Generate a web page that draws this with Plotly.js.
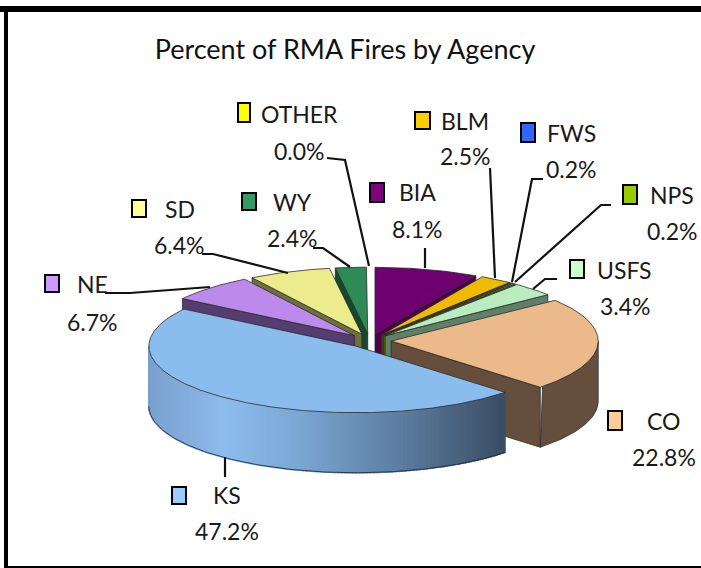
<!DOCTYPE html>
<html><head><meta charset="utf-8">
<script src="https://cdn.plot.ly/plotly-3.0.1.min.js"></script>
<style>html,body{margin:0;padding:0;background:#fff;overflow:hidden}#c{width:701px;height:568px}</style>
</head><body><div id="c"></div>
<script>
// Data, clockwise from 12 o'clock
const agencies = ['OTHER','BIA','BLM','FWS','NPS','USFS','CO','KS','NE','SD','WY'];
const percents = [0.0,8.1,2.5,0.2,0.2,3.4,22.8,47.2,6.7,6.4,2.4];
const topColors = ['#ffff00','#6f006f','#eebb00','#3366ff','#99cc00','#b9edc1','#ecb98a','#8bbcee','#bc8aec','#ecec8c','#2e8b57'];
const wallColors = ['#808000','#4c004c','#6e5600','#1a3380','#4d6600','#5f7f68','#654f3c','#7aa6d6','#553d6f','#6e6e3e','#144a2c'];
const keyColors = ['#ffff00','#800080','#ffcc00','#3366ff','#99cc00','#ccffcc','#ffcc99','#99ccff','#cc99ff','#ffff99','#339966'];

// Projection of the tilted, exploded pie onto the pixel-scaled axes
const CX=369.5, CY=340.7, RX=207, RY=66.6, DEPTH=60, PULL=0.105;
const rad=d=>d*Math.PI/180;
const wallGradient=[[148,[122,160,205]],[225,[140,188,238]],[300,[122,166,210]],[400,[92,125,160]],[503,[58,78,100]]];
function gradAt(x){
  for(let i=1;i<wallGradient.length;i++){
    const [x0,c0]=wallGradient[i-1],[x1,c1]=wallGradient[i];
    if(x<=x1){const t=Math.max(0,(x-x0)/(x1-x0));
      return 'rgb('+c0.map((v,k)=>Math.round(v+(c1[k]-v)*t)).join(',')+')';}
  }
  return 'rgb(58,78,100)';
}
const traces=[];
function poly(xs,ys,fill,lineColor,w){
  traces.push({type:'scatter',mode:'lines',x:xs,y:ys,fill:'toself',fillcolor:fill,
    line:{color:lineColor||fill,width:w===undefined?0.8:w},hoverinfo:'skip',showlegend:false});
}
// slice geometry from the values
let acc=0;
const slices=agencies.map((n,i)=>{
  const s=acc*3.6; acc+=percents[i]; const e=acc*3.6; const m=(s+e)/2;
  return {i,n,s,e,m,cx:CX+PULL*RX*Math.sin(rad(m)),cy:CY-PULL*RY*Math.cos(rad(m))};
}).filter(o=>percents[o.i]>0);
const backness=o=>Math.abs(((o.m+180)%360)-180);
slices.sort((a,b)=>backness(a)-backness(b));
const OUT='#2b2b2b';
slices.forEach(o=>{
  const pt=a=>[o.cx+RX*Math.sin(rad(a)),o.cy-RY*Math.cos(rad(a))];
  const wall=wallColors[o.i], top=topColors[o.i];
  // radial walls that face the viewer
  const radial=a=>{const p=pt(a);
    poly([o.cx,p[0],p[0],o.cx,o.cx],[o.cy,p[1],p[1]+DEPTH,o.cy+DEPTH,o.cy],wall,OUT);};
  if(o.s>180) radial(o.s);
  if(o.e<180) radial(o.e);
  // outer wall
  const a0=Math.max(o.s,90),a1=Math.min(o.e,270);
  if(a1>a0){
    if(o.n==='KS'){
      const step=1;
      for(let a=a0;a<a1;a+=step){
        const b=Math.min(a+step,a1),p=pt(a),q=pt(b),c=gradAt((p[0]+q[0])/2);
        poly([p[0],q[0],q[0],p[0],p[0]],[p[1],q[1],q[1]+DEPTH,p[1]+DEPTH,p[1]],c,c,1.6);
      }
      // wall outline
      const xs=[],ys=[];
      for(let a=a0;a<=a1+1e-6;a+=1){const p=pt(a);xs.push(p[0]);ys.push(p[1]+DEPTH);}
      traces.push({type:'scatter',mode:'lines',x:xs,y:ys,line:{color:'#23303f',width:0.9},hoverinfo:'skip',showlegend:false});
    } else {
      const xs=[],ys=[];
      for(let a=a0;a<=a1+1e-6;a+=1){const p=pt(a);xs.push(p[0]);ys.push(p[1]);}
      for(let a=a1;a>=a0-1e-6;a-=1){const p=pt(a);xs.push(p[0]);ys.push(p[1]+DEPTH);}
      xs.push(xs[0]);ys.push(ys[0]);
      poly(xs,ys,wall,OUT);
    }
  }
  // top face
  const xs=[o.cx],ys=[o.cy];
  for(let a=o.s;a<o.e;a+=0.5){const p=pt(a);xs.push(p[0]);ys.push(p[1]);}
  const p=pt(o.e);xs.push(p[0],o.cx);ys.push(p[1],o.cy);
  traces.push({type:'scatter',mode:'lines',name:o.n,x:xs,y:ys,fill:'toself',fillcolor:top,
    line:{color:OUT,width:0.8},text:o.n+' '+percents[o.i].toFixed(1)+'%',hoverinfo:'text',showlegend:false});
});

// Leader lines
const leaders=[
 [[327,345,369],[158,160,266]],
 [[425,425],[248,268]],
 [[490,495],[168,278]],
 [[543,532,512],[179,179,282]],
 [[611,601,515],[205,205,282]],
 [[557,545,533],[279,279,289]],
 [[225,225],[457,477]],
 [[105,130,210],[293,293,287]],
 [[202,213,288],[254,254,273]],
 [[313,323,350],[248,248,267]]
];
leaders.forEach(l=>traces.push({type:'scatter',mode:'lines',x:l[0],y:l[1],
  line:{color:'#111',width:2.2},hoverinfo:'skip',showlegend:false}));

// Label placement: agency -> [key x0, key y0, key x1, key y1, name centre x, name y, pct centre x, pct y]
const place={
 OTHER:[238,103,250,122,299,114,299,151],
 BIA:[370,183,384,202,417,192,417,229],
 BLM:[415,112,430,129,465,121,465,156],
 FWS:[521,123,535,142,571,133,571,169],
 NPS:[623,185,637,204,672,195,672,231],
 USFS:[570,260,584,278,624,270,625,306],
 CO:[608,411,622,430,663,421,664,457],
 KS:[172,487,186,504,227,495,227,531],
 NE:[45,275,59,292,92,284,92,322],
 SD:[132,200,146,217,180,209,179,245],
 WY:[242,193,256,210,292,202,292,238]
};
const FONT='Lato, "Open Sans", sans-serif';
const shapes=[
 {type:'rect',xref:'x',yref:'y',x0:0,x1:701,y0:6,y1:12,fillcolor:'#000',line:{width:0}},
 {type:'rect',xref:'x',yref:'y',x0:4,x1:8,y0:6,y1:568,fillcolor:'#000',line:{width:0}},
 {type:'rect',xref:'x',yref:'y',x0:4,x1:701,y0:566,y1:568,fillcolor:'#000',line:{width:0}}
];
const annotations=[];
agencies.forEach((n,i)=>{
  const p=place[n];
  shapes.push({type:'rect',xref:'x',yref:'y',x0:p[0],y0:p[1],x1:p[2],y1:p[3],fillcolor:keyColors[i],line:{color:'#000',width:2}});
  annotations.push({x:p[4],y:p[5],xref:'x',yref:'y',text:n,showarrow:false,xanchor:'center',yanchor:'middle',font:{family:FONT,size:23,color:'#1a1a1a'}});
  annotations.push({x:p[6],y:p[7],xref:'x',yref:'y',text:percents[i].toFixed(1)+'%',showarrow:false,xanchor:'center',yanchor:'middle',font:{family:FONT,size:23,color:'#1a1a1a'}});
});
Plotly.newPlot('c',traces,{
  width:701,height:568,margin:{l:0,r:0,t:0,b:0},paper_bgcolor:'#fff',plot_bgcolor:'#fff',showlegend:false,
  title:{text:'Percent of RMA Fires by Agency',x:345/701,xanchor:'center',y:1-50/568,yanchor:'middle',font:{family:FONT,size:27,color:'#111'}},
  xaxis:{range:[0,701],visible:false,fixedrange:true},
  yaxis:{range:[568,0],visible:false,fixedrange:true},
  shapes,annotations
},{displayModeBar:false,staticPlot:true});
</script></body></html>
